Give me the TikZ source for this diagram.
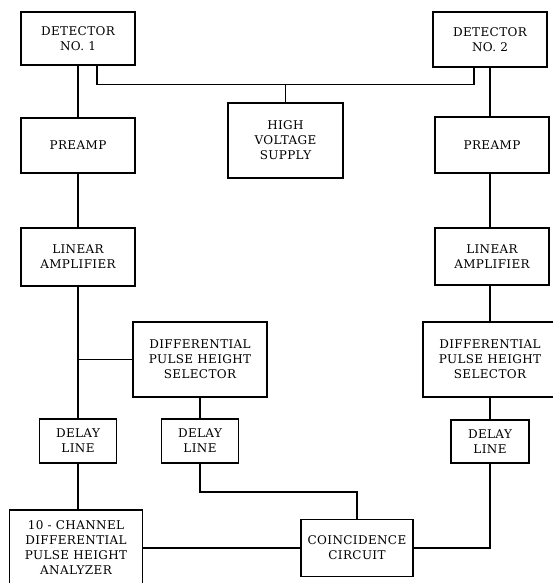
\documentclass[tikz,border=0pt]{standalone}
\usepackage{fontspec}
\setmainfont{DejaVu Serif}[LetterSpace=3]
\usetikzlibrary{positioning}

\begin{document}
\begin{tikzpicture}[x=1pt,y=-1pt,
    every node/.style={font=\fontsize{12}{15}\selectfont},
    blk/.style={draw,rectangle,line width=1.5pt,align=center,inner sep=0pt},
    wire/.style={line width=1.5pt}]
  \useasboundingbox (0,0) rectangle (553,583);
  % left column
  \node[blk,minimum width=114pt,minimum height=53pt] (det1) at (78,38.5)
    {DETECTOR\\NO. 1};
  \node[blk,minimum width=114pt,minimum height=55pt] (pre1) at (78,145.5)
    {PREAMP};
  \node[blk,minimum width=114pt,minimum height=58pt] (lin1) at (78,257)
    {LINEAR\\AMPLIFIER};
  \node[blk,minimum width=134pt,minimum height=75pt] (dphs1) at (200,359.5)
    {DIFFERENTIAL\\PULSE HEIGHT\\SELECTOR};
  \node[blk,minimum width=77pt,minimum height=44pt] (del1) at (78,441)
    {DELAY\\LINE};
  \node[blk,minimum width=77pt,minimum height=44pt] (del2) at (200,441)
    {DELAY\\LINE};
  \node[blk,minimum width=133pt,minimum height=76pt] (ana) at (76,548)
    {10 - CHANNEL\\DIFFERENTIAL\\PULSE HEIGHT\\ANALYZER};
  % middle
  \node[blk,minimum width=115pt,minimum height=75pt] (hv) at (285.5,140.5)
    {HIGH\\VOLTAGE\\SUPPLY};
  \node[blk,minimum width=112pt,minimum height=57pt] (coinc) at (357,548)
    {COINCIDENCE\\CIRCUIT};
  % right column
  \node[blk,minimum width=114pt,minimum height=55pt] (det2) at (490,39.5)
    {DETECTOR\\NO. 2};
  \node[blk,minimum width=114pt,minimum height=56pt] (pre2) at (492,145)
    {PREAMP};
  \node[blk,minimum width=114pt,minimum height=57pt] (lin2) at (492,256.5)
    {LINEAR\\AMPLIFIER};
  \node[blk,minimum width=134pt,minimum height=75pt] (dphs2) at (490,359.5)
    {DIFFERENTIAL\\PULSE HEIGHT\\SELECTOR};
  \node[blk,minimum width=78pt,minimum height=43pt] (del3) at (490,441.5)
    {DELAY\\LINE};

  % high voltage feed
  \draw[wire] ([xshift=19pt]det1.south) -- ++(0,19) -| ([xshift=-16pt]det2.south);
  \draw[wire] (hv.north) -- (hv.north |- 0,84);
  % left chain
  \draw[wire] (det1.south) -- (pre1.north);
  \draw[wire] (pre1.south) -- (lin1.north);
  \draw[wire] (lin1.south) -- (del1.north);
  \draw[wire] (dphs1.west) -- (dphs1.west -| lin1.south);
  \draw[wire] (del1.south) -- (ana.north -| del1.south);
  \draw[wire] (dphs1.south) -- (del2.north);
  \draw[wire] (del2.south) -- ++(0,28) -| (coinc.north);
  \draw[wire] (ana.east) -- (coinc.west);
  % right chain
  \draw[wire] (det2.south) -- (pre2.north -| det2.south);
  \draw[wire] (pre2.south -| det2.south) -- (lin2.north -| det2.south);
  \draw[wire] (lin2.south -| det2.south) -- (dphs2.north);
  \draw[wire] (dphs2.south) -- (del3.north);
  \draw[wire] (coinc.east) -| (del3.south);
\end{tikzpicture}
\end{document}
